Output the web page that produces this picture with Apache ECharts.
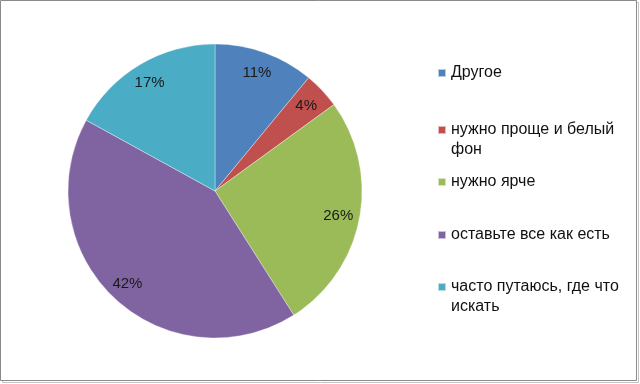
<!DOCTYPE html>
<html><head><meta charset="utf-8">
<style>html,body{margin:0;padding:0;background:#fff}#c{width:640px;height:384px}</style>
<script src="https://cdn.jsdelivr.net/npm/echarts@6/dist/echarts.min.js"></script>
</head><body><div id="c"></div>
<script>
const categories = ['Другое','нужно проще и белый фон','нужно ярче','оставьте все как есть','часто путаюсь, где что искать'];
const legendLines = [['Другое'], ['нужно проще и белый','фон'], ['нужно ярче'], ['оставьте все как есть'], ['часто путаюсь, где что','искать']];
const values = [11, 4, 26, 42, 17];
const colors = ['#4F81BD','#C0504D','#9BBB59','#8064A2','#4BACC6'];
const legendFirstLineY = [73, 130, 182, 235, 287];

const chart = echarts.init(document.getElementById('c'));
const data = categories.map((n,i)=>({name:n, value:values[i], itemStyle:{color:colors[i]}}));
const font = 'Liberation Sans';
const LH = 20;
const legends = categories.map((n,i)=>{
  const lines = legendLines[i];
  const multi = lines.length > 1;
  const txt = multi ? ' \n' + lines.join('\n') : lines[0];
  const h = multi ? LH * (lines.length + 1) : LH;
  return {
    left: 437, top: legendFirstLineY[i] - h/2, orient:'vertical', icon:'rect', itemWidth:8, itemHeight:8, itemGap:0,
    selectedMode:false, padding:0,
    data:[{name:n}],
    formatter: () => txt,
    textStyle:{fontFamily:font, fontSize:16, color:'#111', lineHeight:LH}
  };
});
chart.setOption({
  animation:false,
  color: colors,
  graphic:[
    {type:'rect', shape:{x:2.5,y:2.5,width:636,height:380}, style:{fill:'none', stroke:'#c4c4c4', lineWidth:1}, z:-2},
    {type:'rect', shape:{x:0.5,y:0.5,width:636,height:380}, style:{fill:'#fff', stroke:'#8a8a8a', lineWidth:1}, z:-1}
  ],
  legend: legends,
  series:[
    {type:'pie', center:[215,191], radius:[0,147], startAngle:90, clockwise:true,
     label:{show:false}, labelLine:{show:false}, silent:true,
     itemStyle:{borderColor:'rgba(255,255,255,0.6)', borderWidth:0.6},
     data:data},
    {type:'pie', center:[215,191], radius:[100,147], startAngle:90, clockwise:true, silent:true,
     itemStyle:{color:'transparent'},
     label:{show:true, position:'inside', formatter:'{c}%', fontFamily:font, fontSize:15, color:'#1a1a1a', offset:[-1,1]},
     labelLine:{show:false},
     data: categories.map((n,i)=>({name:n, value:values[i], itemStyle:{color:'transparent'}}))}
  ]
});
</script></body></html>
